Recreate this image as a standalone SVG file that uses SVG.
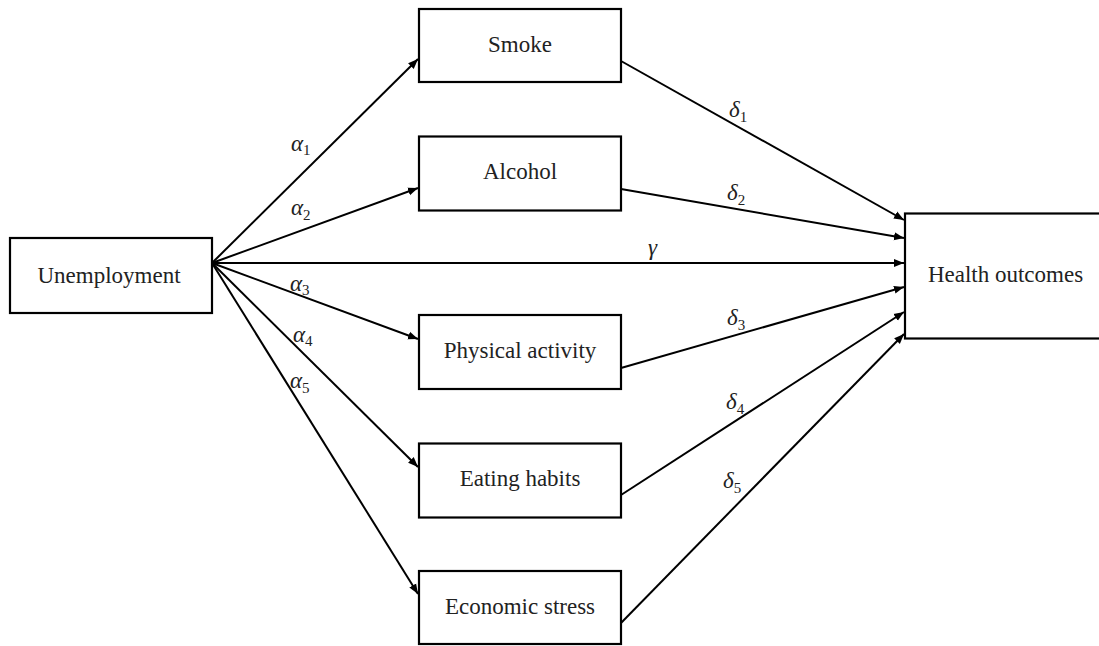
<svg xmlns="http://www.w3.org/2000/svg" width="1099" height="646" viewBox="0 0 1099 646">
<style>
.box{fill:#fff;stroke:#000;stroke-width:2.2}
.lbl{font-size:23px;fill:#222;text-anchor:middle}
.edge{stroke:#000;stroke-width:2;fill:none;marker-end:url(#arr)}
.m{font-family:'Liberation Serif',serif;font-size:23px;font-style:italic;fill:#222}
.sub{font-size:15px;font-style:normal}
</style>
<defs>
<marker id="arr" markerUnits="userSpaceOnUse" markerWidth="11" markerHeight="9" refX="10" refY="4" orient="auto" viewBox="0 0 11 8">
<path d="M0,0 L10,4 L0,8 z" fill="#000"/>
</marker>
</defs>
<rect width="1099" height="646" fill="#fff"/>
<g id="connectors">
<line class="edge" x1="212" y1="263" x2="418" y2="59"/>
<line class="edge" x1="212" y1="263" x2="418" y2="188"/>
<line class="edge" x1="212" y1="263" x2="418" y2="339"/>
<line class="edge" x1="212" y1="263" x2="418" y2="467"/>
<line class="edge" x1="212" y1="263" x2="418" y2="594"/>
<line class="edge" x1="212" y1="263" x2="904" y2="263"/>
<line class="edge" x1="621" y1="61" x2="904" y2="220"/>
<line class="edge" x1="621" y1="189" x2="904" y2="238"/>
<line class="edge" x1="621" y1="368" x2="904" y2="287"/>
<line class="edge" x1="621" y1="495" x2="904" y2="312"/>
<line class="edge" x1="621" y1="623" x2="904" y2="334"/>
<text class="m" x="291" y="150.5">α<tspan class="sub" dy="4.5">1</tspan></text>
<text class="m" x="291" y="215">α<tspan class="sub" dy="4.5">2</tspan></text>
<text class="m" x="290" y="290.5">α<tspan class="sub" dy="4.5">3</tspan></text>
<text class="m" x="293" y="341.5">α<tspan class="sub" dy="4.5">4</tspan></text>
<text class="m" x="290" y="388">α<tspan class="sub" dy="4.5">5</tspan></text>
<text class="m" x="729" y="117">δ<tspan class="sub" dy="4.5">1</tspan></text>
<text class="m" x="727" y="200">δ<tspan class="sub" dy="4.5">2</tspan></text>
<text class="m" x="648" y="255">γ</text>
<text class="m" x="727" y="325">δ<tspan class="sub" dy="4.5">3</tspan></text>
<text class="m" x="726" y="409">δ<tspan class="sub" dy="4.5">4</tspan></text>
<text class="m" x="723" y="488">δ<tspan class="sub" dy="4.5">5</tspan></text>
</g>
<g id="unemployment">
<rect class="box" x="10" y="238" width="202" height="75"/>
<text class="lbl" x="109" y="282.5" font-family="'Liberation Serif'">Unemployment</text>
</g>
<g id="smoke">
<rect class="box" x="419" y="9" width="202" height="73"/>
<text class="lbl" x="520" y="51.5" font-family="'Liberation Serif'">Smoke</text>
</g>
<g id="alcohol">
<rect class="box" x="419" y="136.5" width="202" height="74"/>
<text class="lbl" x="520" y="179" font-family="'Liberation Serif'">Alcohol</text>
</g>
<g id="physical">
<rect class="box" x="419" y="315" width="202" height="74"/>
<text class="lbl" x="520" y="357.5" font-family="'Liberation Serif'">Physical activity</text>
</g>
<g id="eating">
<rect class="box" x="419" y="443.5" width="202" height="74"/>
<text class="lbl" x="520" y="486" font-family="'Liberation Serif'">Eating habits</text>
</g>
<g id="economic">
<rect class="box" x="419" y="571" width="202" height="73"/>
<text class="lbl" x="520" y="613.5" font-family="'Liberation Serif'">Economic stress</text>
</g>
<g id="health">
<rect class="box" x="905" y="213.5" width="202" height="125"/>
<text class="lbl" x="1005.5" y="281.5" font-family="'Liberation Serif'">Health outcomes</text>
</g>
</svg>
